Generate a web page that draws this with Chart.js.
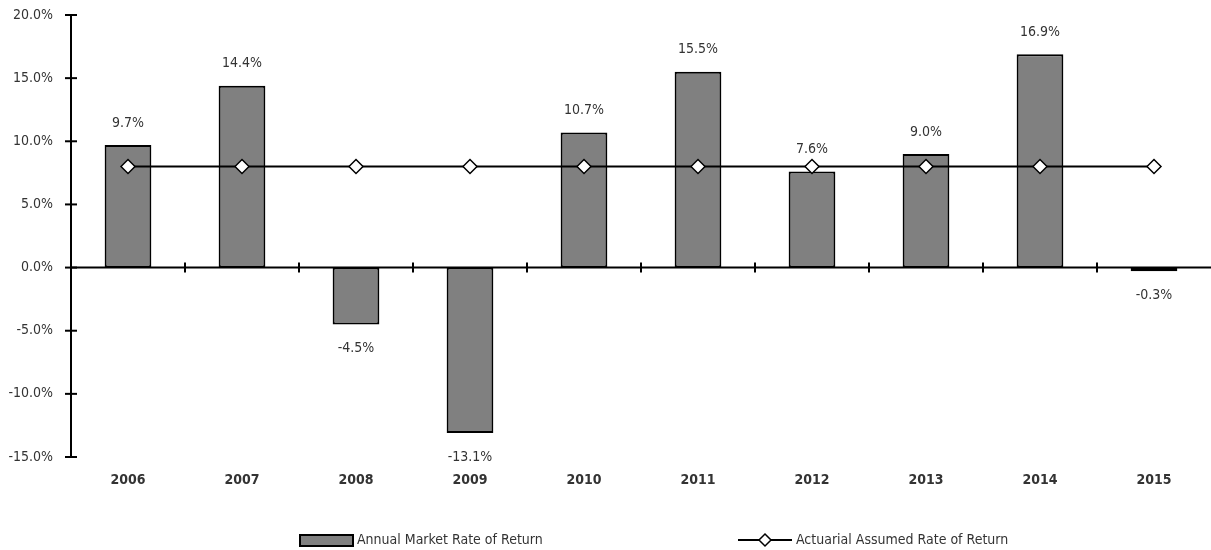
<!DOCTYPE html>
<html><head><meta charset="utf-8">
<script src="https://cdn.jsdelivr.net/npm/chart.js@4.4.1/dist/chart.umd.min.js"></script>
<style>html,body{margin:0;padding:0;background:#fff}#wrap{position:relative;width:1211px;height:550px}</style>
</head><body><div id="wrap"><canvas id="c" width="1211" height="550"></canvas></div>
<script>
const categories = ['2006','2007','2008','2009','2010','2011','2012','2013','2014','2015'];
const marketReturns = [9.7, 14.4, -4.5, -13.1, 10.7, 15.5, 7.6, 9.0, 16.9, -0.3];
const assumedReturns = [8.0, 8.0, 8.0, 8.0, 8.0, 8.0, 8.0, 8.0, 8.0, 8.0];
const yMin = -15, yMax = 20, yStep = 5;
const seriesNames = ['Annual Market Rate of Return', 'Actuarial Assumed Rate of Return'];

const FONT = "'DejaVu Sans Condensed','Liberation Sans Narrow','Arial Narrow',sans-serif";
const TEXT = '#333333';
const BAR_FILL = '#808080';

const axesPlugin = {
  id: 'axesPlugin',
  afterDatasetsDraw(chart) {
    const ctx = chart.ctx, ca = chart.chartArea;
    const y = chart.scales.y, x = chart.scales.x;
    ctx.save();
    ctx.strokeStyle = '#000';
    ctx.lineWidth = 2;
    ctx.beginPath();
    ctx.moveTo(ca.left, y.getPixelForValue(yMax));
    ctx.lineTo(ca.left, y.getPixelForValue(yMin));
    ctx.stroke();
    for (let v = yMin; v <= yMax; v += yStep) {
      const py = y.getPixelForValue(v);
      ctx.beginPath();
      ctx.moveTo(ca.left - 6, py);
      ctx.lineTo(ca.left + 6, py);
      ctx.stroke();
    }
    const y0 = y.getPixelForValue(0);
    ctx.beginPath();
    ctx.moveTo(ca.left, y0);
    ctx.lineTo(ca.right, y0);
    ctx.stroke();
    for (let i = 1; i < categories.length; i++) {
      const px = (x.getPixelForValue(i - 1) + x.getPixelForValue(i)) / 2;
      ctx.beginPath();
      ctx.moveTo(px, y0 - 5);
      ctx.lineTo(px, y0 + 5);
      ctx.stroke();
    }
    ctx.restore();
  },
  afterDraw(chart) {
    const ctx = chart.ctx;
    const meta = chart.getDatasetMeta(0);
    ctx.save();
    ctx.font = "14px " + FONT;
    ctx.fillStyle = TEXT;
    ctx.textAlign = 'center';
    ctx.textBaseline = 'middle';
    meta.data.forEach((el, i) => {
      const v = marketReturns[i];
      const ly = v >= 0 ? el.y - 22 : el.y + 24;
      ctx.fillText(v.toFixed(1) + '%', el.x, ly);
    });
    const ly = 540;
    ctx.textAlign = 'left';
    ctx.fillStyle = BAR_FILL;
    ctx.fillRect(300, ly - 5, 53, 11);
    ctx.strokeStyle = '#000';
    ctx.lineWidth = 2;
    ctx.strokeRect(300, ly - 5, 53, 11);
    ctx.fillStyle = TEXT;
    ctx.fillText(seriesNames[0], 357, ly);
    ctx.beginPath();
    ctx.moveTo(738, ly); ctx.lineTo(792, ly); ctx.stroke();
    ctx.beginPath();
    ctx.moveTo(765, ly - 6); ctx.lineTo(771, ly); ctx.lineTo(765, ly + 6); ctx.lineTo(759, ly); ctx.closePath();
    ctx.fillStyle = '#fff'; ctx.fill();
    ctx.lineWidth = 1.5; ctx.stroke();
    ctx.fillStyle = TEXT;
    ctx.fillText(seriesNames[1], 796, ly);
    ctx.restore();
  }
};

new Chart(document.getElementById('c'), {
  data: {
    labels: categories,
    datasets: [
      {
        type: 'bar', label: seriesNames[0], data: marketReturns,
        backgroundColor: BAR_FILL, borderColor: '#000', borderWidth: 2,
        borderSkipped: false, barPercentage: 0.41, categoryPercentage: 1.0, order: 2
      },
      {
        type: 'line', label: seriesNames[1], data: assumedReturns,
        borderColor: '#000', borderWidth: 2, pointStyle: 'rectRot', pointRadius: 7,
        pointBackgroundColor: '#fff', pointBorderColor: '#000', pointBorderWidth: 1.5,
        fill: false, tension: 0, order: 1
      }
    ]
  },
  options: {
    responsive: false, animation: false,
    layout: { autoPadding: false, padding: { top: 15, left: 0, right: 0, bottom: 0 } },
    plugins: { legend: { display: false }, tooltip: { enabled: false } },
    scales: {
      x: {
        type: 'category', offset: true,
        grid: { display: false, drawTicks: false }, border: { display: false },
        ticks: { color: TEXT, font: { family: FONT, size: 14, weight: 'bold' }, padding: 15, maxRotation: 0 },
        afterFit(s) { s.height = 93; s.paddingLeft = 0; s.paddingRight = 0; }
      },
      y: {
        min: yMin, max: yMax,
        grid: { display: false, drawTicks: false }, border: { display: false },
        ticks: { stepSize: yStep, color: TEXT, font: { family: FONT, size: 14 }, padding: 18,
          callback: v => v.toFixed(1) + '%' },
        afterFit(s) { s.width = 71; s.paddingTop = 8; s.paddingBottom = 8; }
      }
    }
  },
  plugins: [axesPlugin]
});
</script></body></html>
